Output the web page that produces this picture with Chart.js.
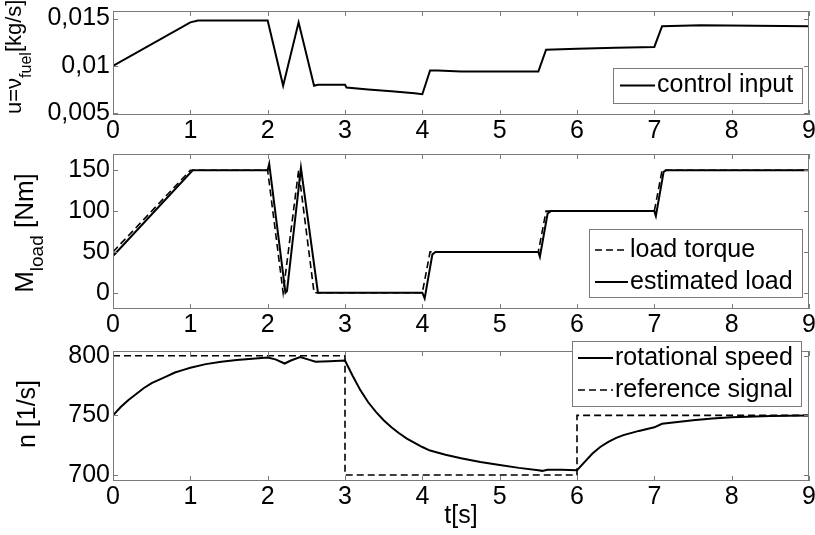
<!DOCTYPE html>
<html lang="en">

<head>
  <meta charset="UTF-8">
  <title>Fuel, load and speed</title>
  <style>
    html,
    body {
      margin: 0;
      padding: 0;
      width: 815px;
      height: 535px;
      overflow: hidden;
      background: #fff;
    }

    canvas {
      position: absolute;
      left: 0;
      top: 0;
    }
  </style>
</head>

<body>
  <canvas id="fuelChart" width="830" height="535"></canvas>
  <canvas id="loadChart" width="830" height="535"></canvas>
  <canvas id="speedChart" width="830" height="535"></canvas>
  <script src="https://cdn.jsdelivr.net/npm/chart.js@4.4.1/dist/chart.umd.min.js"></script>
  <script>
    // shared time axis
    const timeTicks = [0, 1, 2, 3, 4, 5, 6, 7, 8, 9]
    const timeLabels = ['0', '1', '2', '3', '4', '5', '6', '7', '8', '9']

    // y ticks per panel
    const fuelTicks = [0.005, 0.01, 0.015]
    const fuelTickLabels = ['0,005', '0,01', '0,015']
    const loadTicks = [0, 50, 100, 150]
    const loadTickLabels = ['0', '50', '100', '150']
    const speedTicks = [700, 750, 800]
    const speedTickLabels = ['700', '750', '800']

    // panel 1: control input u [kg/s]
    const fuelTime = [0, 1.0, 1.1, 2.0, 2.2, 2.4, 2.6, 2.65, 3.0, 3.02, 3.3, 3.6, 3.9, 4.0, 4.1, 4.2, 4.5, 5.5, 5.6, 6.0, 6.5, 7.0, 7.1, 7.6, 9.0]
    const fuelInput = [0.0100, 0.0146, 0.0148, 0.0148, 0.0079, 0.0146, 0.0079, 0.0080, 0.0080, 0.0077, 0.0075, 0.0073, 0.0071, 0.0070, 0.0095, 0.0095, 0.0094, 0.0094, 0.0117, 0.0118, 0.0119, 0.0120, 0.0142, 0.0143, 0.0142]

    // panel 2: load torque and its estimate [Nm]
    const loadTime = [0, 1, 2, 2.2, 2.4, 2.6, 4.0, 4.1, 5.5, 5.6, 7.0, 7.1, 9.0, 9.0]
    const loadTorque = [50, 150, 150, 0, 150, 0, 0, 50, 50, 100, 100, 150, 150, 75]
    const estTime = [0, 1.03, 2.0, 2.02, 2.23, 2.25, 2.43, 2.65, 2.7, 4.0, 4.03, 4.13, 4.17, 5.5, 5.52, 5.62, 5.66, 7.0, 7.02, 7.12, 7.15, 9.0]
    const estLoad = [45, 150, 150, 158, 0, 2, 153, 0, 0, 0, -7, 47, 50, 50, 44, 97, 100, 100, 94, 148, 150, 150]

    // panel 3: rotational speed and reference [1/s]
    const speedTime = [
      0, 0.1, 0.2, 0.3, 0.4, 0.5, 0.6, 0.7, 0.8, 0.9,
      1.0, 1.2, 1.4, 1.6, 1.8, 2.0, 2.1, 2.22, 2.3, 2.42,
      2.52, 2.62, 2.8, 3.0, 3.1, 3.2, 3.3, 3.4, 3.5, 3.6,
      3.7, 3.8, 3.9, 4.0, 4.1, 4.3, 4.5, 4.75, 5.0, 5.25,
      5.5, 5.55, 5.62, 5.8, 6.0, 6.1, 6.2, 6.3, 6.4, 6.5,
      6.6, 6.8, 7.0, 7.1, 7.3, 7.5, 7.75, 8.0, 8.5, 9.0
    ]
    const speedValues = [
      750, 757, 763, 768, 773, 777, 780, 783, 786, 788,
      790, 793, 795, 796.5, 797.5, 798.5, 797, 793.5, 796, 799,
      797, 795, 795.5, 796, 783, 771, 761, 753, 746, 740,
      735, 730.5, 727, 723.5, 720.5, 717, 714, 711, 708.5, 706,
      704, 703.5, 704.5, 704.5, 704, 711, 718, 723.5, 727.5, 731,
      733.5, 737, 740, 743, 744.5, 746, 747.5, 748.5, 749.5, 750
    ]
    const refTime = [0, 3, 3, 6, 6, 9]
    const refValues = [800, 800, 700, 700, 750, 750]

    const FONT = '"Liberation Sans", Arial, Helvetica, sans-serif'
    const FRAME = '#7a7a7a'
    const DASH = [7, 4]

    Chart.defaults.font.family = FONT
    Chart.defaults.font.size = 25
    Chart.defaults.color = '#000'

    const zip = (xs, ys) => xs.map((x, i) => ({ x, y: ys[i] }))

    // matlab style box with inward ticks on all four sides
    const matlabAxes = {
      id: 'matlabAxes',
      afterDatasetsDraw(chart) {
        const { ctx, chartArea: a, scales: { x, y } } = chart
        const len = 5
        ctx.save()
        ctx.strokeStyle = FRAME
        ctx.lineWidth = 1
        ctx.beginPath()
        x.ticks.forEach(t => {
          const px = Math.round(x.getPixelForValue(t.value)) + 0.5
          ctx.moveTo(px, a.bottom)
          ctx.lineTo(px, a.bottom - len)
          ctx.moveTo(px, a.top)
          ctx.lineTo(px, a.top + len)
        })
        y.ticks.forEach(t => {
          const py = Math.round(y.getPixelForValue(t.value)) + 0.5
          ctx.moveTo(a.left, py)
          ctx.lineTo(a.left + len, py)
          ctx.moveTo(a.right, py)
          ctx.lineTo(a.right - len, py)
        })
        ctx.stroke()
        ctx.strokeRect(a.left + 0.5, a.top + 0.5, a.width - 1, a.height - 1)
        ctx.restore()
      }
    }

    // legend drawn as a framed box, entries taken from the datasets
    function boxLegend(box) {
      return {
        id: 'boxLegend',
        afterDraw(chart) {
          const { ctx } = chart
          ctx.save()
          ctx.fillStyle = '#fff'
          ctx.fillRect(box.x, box.y, box.w, box.h)
          ctx.strokeStyle = FRAME
          ctx.lineWidth = 1
          ctx.strokeRect(box.x + 0.5, box.y + 0.5, box.w, box.h)
          ctx.font = '25px ' + FONT
          ctx.textBaseline = 'middle'
          ctx.fillStyle = '#000'
          chart.data.datasets.forEach((ds, i) => {
            const cy = box.y + box.row0 + i * box.rowGap
            ctx.strokeStyle = ds.borderColor
            ctx.lineWidth = ds.borderWidth
            ctx.setLineDash(ds.borderDash || [])
            ctx.beginPath()
            ctx.moveTo(box.x + box.line0, cy)
            ctx.lineTo(box.x + box.line1, cy)
            ctx.stroke()
            ctx.setLineDash([])
            ctx.fillText(ds.label, box.x + box.text, cy)
          })
          ctx.restore()
        }
      }
    }

    // rotated y label with subscripts
    function yTitle(parts, t) {
      return {
        id: 'yTitle',
        afterDraw(chart) {
          const { ctx } = chart
          const fontOf = p => (p.sub ? t.sub : t.main) + 'px ' + FONT
          let total = 0
          parts.forEach(p => {
            ctx.font = fontOf(p)
            total += ctx.measureText(p.text).width
          })
          ctx.save()
          ctx.translate(t.x, t.y)
          ctx.rotate(-Math.PI / 2)
          ctx.fillStyle = '#000'
          ctx.textBaseline = 'alphabetic'
          let pos = t.fromBottom ? 0 : -total / 2
          parts.forEach(p => {
            ctx.font = fontOf(p)
            ctx.fillText(p.text, pos, p.sub ? t.shift : 0)
            pos += ctx.measureText(p.text).width
          })
          ctx.restore()
        }
      }
    }

    function makeOptions(cfg) {
      return {
        responsive: false,
        animation: false,
        events: [],
        layout: { padding: { left: 0, right: 21, top: cfg.top, bottom: cfg.bottom } },
        plugins: { legend: { display: false }, tooltip: { enabled: false } },
        elements: { point: { radius: 0 }, line: { tension: 0 } },
        scales: {
          x: {
            type: 'linear',
            min: 0,
            max: 9,
            grid: { display: false, drawTicks: false },
            border: { display: false },
            ticks: { padding: 1, autoSkip: false, maxRotation: 0, callback: (v, i) => timeLabels[i] },
            afterBuildTicks: s => { s.ticks = timeTicks.map(v => ({ value: v })) },
            afterFit: s => {
              s.height = cfg.xHeight
              s.paddingLeft = 0
              s.paddingRight = 0
            },
            title: cfg.xTitle
              ? { display: true, text: cfg.xTitle, padding: { top: 0, bottom: 4 } }
              : { display: false }
          },
          y: {
            min: cfg.yMin,
            max: cfg.yMax,
            grid: { display: false, drawTicks: false },
            border: { display: false },
            ticks: { padding: 3, autoSkip: false, callback: (v, i) => cfg.yLabels[i] },
            afterBuildTicks: s => { s.ticks = cfg.yTicks.map(v => ({ value: v })) },
            afterFit: s => {
              s.width = 113
              s.paddingTop = 0
              s.paddingBottom = 0
            }
          }
        }
      }
    }

    new Chart(document.getElementById('fuelChart'), {
      type: 'line',
      data: {
        datasets: [
          { label: 'control input', data: zip(fuelTime, fuelInput), borderColor: '#000', borderWidth: 2 }
        ]
      },
      options: makeOptions({
        top: 11, bottom: 390, xHeight: 30,
        yMin: 0.0048, yMax: 0.0158, yTicks: fuelTicks, yLabels: fuelTickLabels
      }),
      plugins: [
        matlabAxes,
        boxLegend({ x: 613, y: 68, w: 189, h: 35, row0: 17.5, rowGap: 0, line0: 7, line1: 42, text: 44 }),
        yTitle([{ text: 'u=ν' }, { text: 'fuel', sub: true }, { text: '[kg/s]' }],
          { x: 21, y: 114, fromBottom: true, main: 22, sub: 16, shift: 10 })
      ]
    })

    new Chart(document.getElementById('loadChart'), {
      type: 'line',
      data: {
        datasets: [
          { label: 'load torque', data: zip(loadTime, loadTorque), borderColor: '#000', borderWidth: 1.6, borderDash: DASH },
          { label: 'estimated load', data: zip(estTime, estLoad), borderColor: '#000', borderWidth: 2 }
        ]
      },
      options: makeOptions({
        top: 154, bottom: 196, xHeight: 30,
        yMin: -20, yMax: 170, yTicks: loadTicks, yLabels: loadTickLabels
      }),
      plugins: [
        matlabAxes,
        boxLegend({ x: 589, y: 229, w: 213, h: 68, row0: 21, rowGap: 32, line0: 6, line1: 39, text: 41 }),
        yTitle([{ text: 'M' }, { text: 'load', sub: true }, { text: ' [Nm]' }],
          { x: 33, y: 233, fromBottom: false, main: 26, sub: 19, shift: 10 })
      ]
    })

    new Chart(document.getElementById('speedChart'), {
      type: 'line',
      data: {
        datasets: [
          { label: 'rotational speed', data: zip(speedTime, speedValues), borderColor: '#000', borderWidth: 2 },
          { label: 'reference signal', data: zip(refTime, refValues), borderColor: '#000', borderWidth: 1.6, borderDash: DASH }
        ]
      },
      options: makeOptions({
        top: 351, bottom: 0, xHeight: 54, xTitle: 't[s]',
        yMin: 695, yMax: 804, yTicks: speedTicks, yLabels: speedTickLabels
      }),
      plugins: [
        matlabAxes,
        boxLegend({ x: 572, y: 341, w: 229, h: 65, row0: 17, rowGap: 32, line0: 6, line1: 41, text: 43 }),
        yTitle([{ text: 'n [1/s]' }], { x: 35, y: 414, fromBottom: false, main: 25, sub: 18, shift: 10 })
      ]
    })
  </script>
</body>

</html>
